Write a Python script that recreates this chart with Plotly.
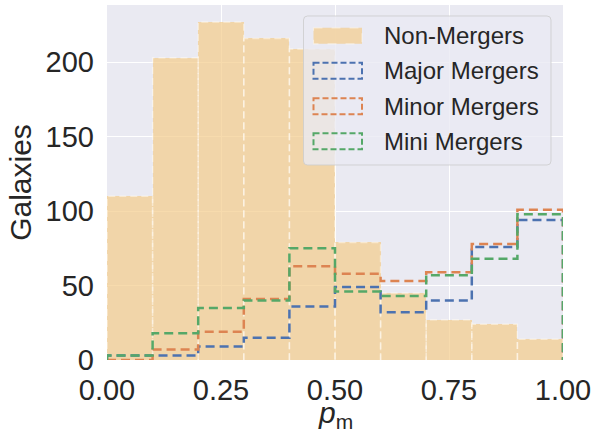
import plotly.graph_objects as go

# Histogram bins in merger probability p_m
bin_edges = [0.0, 0.1, 0.2, 0.3, 0.4, 0.5, 0.6, 0.7, 0.8, 0.9, 1.0]

# Galaxy counts per bin
non_mergers = [110, 203, 227, 216, 209, 79, 45, 27, 24, 14]
major_mergers = [3, 3, 9, 15, 36, 49, 32, 40, 76, 94]
minor_mergers = [0, 7, 19, 41, 63, 58, 53, 59, 78, 101]
mini_mergers = [3, 18, 35, 40, 75, 46, 43, 57, 68, 98]

series_names = ["Non-Mergers", "Major Mergers", "Minor Mergers", "Mini Mergers"]
step_colors = ["#4C72B0", "#DD8452", "#55A868"]
bar_fill = "rgba(243,204,138,0.7)"
bar_edge = "rgba(255,250,240,0.55)"
text_color = "#262626"
font_family = "Liberation Sans, Arial, sans-serif"

W, H = 607, 439
L, R, T, B = 107, 44, 5, 79
PW, PH = W - L - R, H - T - B


def step_path(edges, counts):
    """Outline of an unfilled histogram: up from zero, across each bin, back to zero."""
    xs, ys = [edges[0]], [0]
    for i, c in enumerate(counts):
        xs += [edges[i], edges[i + 1]]
        ys += [c, c]
    xs.append(edges[-1])
    ys.append(0)
    return xs, ys


def bar_outline(edges, counts):
    """Edges of each histogram bar as separate segments."""
    xs, ys = [], []
    for i, c in enumerate(counts):
        xs += [edges[i], edges[i], edges[i + 1], edges[i + 1], None]
        ys += [0, c, c, 0, None]
    return xs, ys


centers = [(bin_edges[i] + bin_edges[i + 1]) / 2 for i in range(len(non_mergers))]
widths = [bin_edges[i + 1] - bin_edges[i] for i in range(len(non_mergers))]

fig = go.Figure()
fig.add_trace(go.Bar(
    x=centers, y=non_mergers, width=widths, name=series_names[0],
    marker=dict(color=bar_fill, line=dict(width=0)), showlegend=False,
))
ox, oy = bar_outline(bin_edges, non_mergers)
fig.add_trace(go.Scatter(
    x=ox, y=oy, mode="lines", showlegend=False, hoverinfo="skip",
    line=dict(color=bar_edge, width=1.5, dash="7px,4px"),
))
for name, counts, color in zip(series_names[1:],
                               [major_mergers, minor_mergers, mini_mergers],
                               step_colors):
    sx, sy = step_path(bin_edges, counts)
    fig.add_trace(go.Scatter(
        x=sx, y=sy, mode="lines", name=name, showlegend=False,
        line=dict(color=color, width=2.5, dash="9px,5px"),
    ))


# Legend drawn in pixel space inside the axes
def px(x):
    return (x - L) / PW


def py(y):
    return (H - B - y) / PH


shapes = []
annotations = []
bx0, bx1, by0, by1, rad = 303.5, 551, 16, 165, 4
box_path = (
    f"M{px(bx0 + rad)},{py(by0)} L{px(bx1 - rad)},{py(by0)} "
    f"Q{px(bx1)},{py(by0)} {px(bx1)},{py(by0 + rad)} "
    f"L{px(bx1)},{py(by1 - rad)} Q{px(bx1)},{py(by1)} {px(bx1 - rad)},{py(by1)} "
    f"L{px(bx0 + rad)},{py(by1)} Q{px(bx0)},{py(by1)} {px(bx0)},{py(by1 - rad)} "
    f"L{px(bx0)},{py(by0 + rad)} Q{px(bx0)},{py(by0)} {px(bx0 + rad)},{py(by0)} Z"
)
shapes.append(dict(type="path", xref="paper", yref="paper", path=box_path,
                   fillcolor="rgba(234,234,242,0.8)",
                   line=dict(color="rgba(204,204,204,0.8)", width=1),
                   layer="above"))

row_centers = [35.8, 70.8, 106.2, 141.3]
hx0, hx1, hh = 313.5, 362, 16
for k, (name, yc) in enumerate(zip(series_names, row_centers)):
    if k == 0:
        shapes.append(dict(type="rect", xref="paper", yref="paper",
                           x0=px(hx0), x1=px(hx1), y0=py(yc - hh / 2), y1=py(yc + hh / 2),
                           fillcolor=bar_fill, line=dict(color=bar_edge, width=1.2, dash="dash"),
                           layer="above"))
    else:
        shapes.append(dict(type="rect", xref="paper", yref="paper",
                           x0=px(hx0), x1=px(hx1), y0=py(yc - hh / 2), y1=py(yc + hh / 2),
                           fillcolor="rgba(0,0,0,0)",
                           line=dict(color=step_colors[k - 1], width=2, dash="6px,3px"),
                           layer="above"))
    annotations.append(dict(xref="paper", yref="paper", x=px(382), y=py(yc),
                            xanchor="left", yanchor="middle", showarrow=False,
                            text=name, font=dict(size=24, color=text_color, family=font_family)))

# x-axis label
annotations.append(dict(xref="paper", yref="paper", x=0.5, y=py(414),
                        xanchor="center", yanchor="middle", showarrow=False,
                        text="<i>p</i><sub>m</sub>",
                        font=dict(size=30, color=text_color, family=font_family)))

fig.update_layout(
    width=W, height=H,
    margin=dict(l=L, r=R, t=T, b=B),
    paper_bgcolor="white",
    plot_bgcolor="#EAEAF2",
    font=dict(family=font_family, color=text_color),
    bargap=0,
    showlegend=False,
    shapes=shapes,
    annotations=annotations,
    xaxis=dict(
        range=[0, 1], tickvals=[0, 0.25, 0.5, 0.75, 1.0], tickformat=".2f",
        tickfont=dict(size=29, color=text_color), showgrid=True,
        gridcolor="white", gridwidth=1.3, zeroline=False, showline=False,
        ticks="", ticklabelstandoff=10,
    ),
    yaxis=dict(
        range=[0, 238.5], tickvals=[0, 50, 100, 150, 200],
        tickfont=dict(size=29, color=text_color), showgrid=True,
        gridcolor="white", gridwidth=1.3, zeroline=False, showline=False,
        ticks="", ticklabelstandoff=12,
        title=dict(text="Galaxies", font=dict(size=30, color=text_color), standoff=5),
    ),
)

fig.write_html("out.html")
